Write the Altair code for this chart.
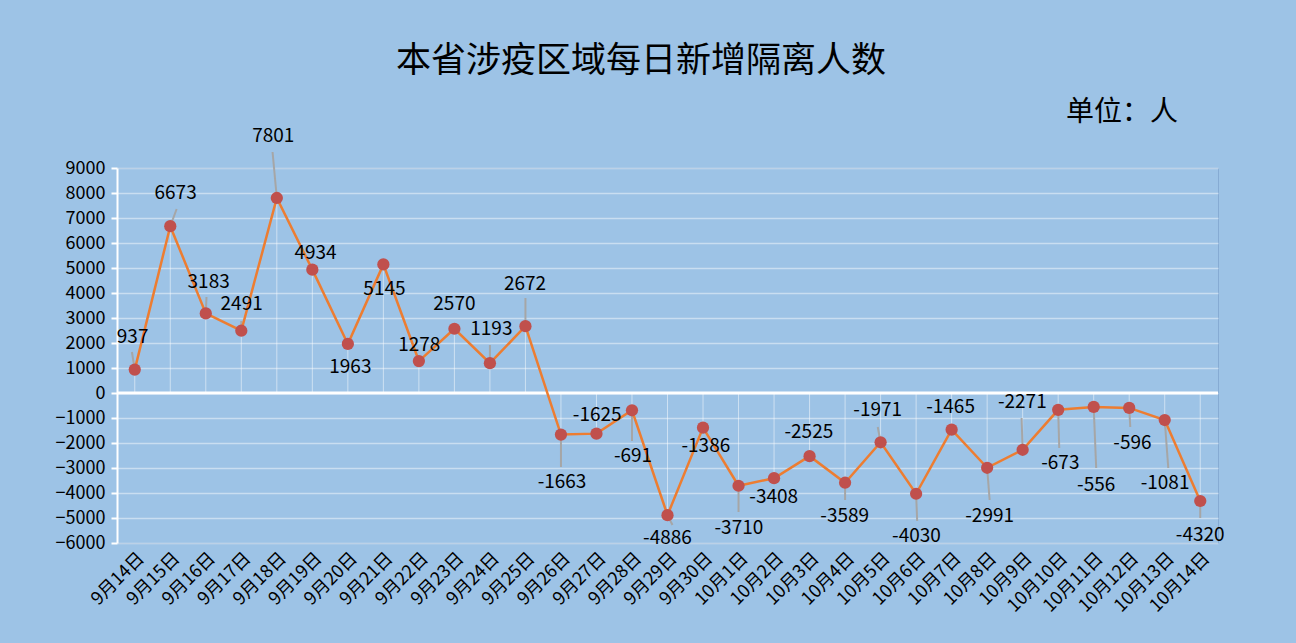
import altair as alt
import pandas as pd

dates = ["9月14日","9月15日","9月16日","9月17日","9月18日","9月19日","9月20日","9月21日",
         "9月22日","9月23日","9月24日","9月25日","9月26日","9月27日","9月28日","9月29日",
         "9月30日","10月1日","10月2日","10月3日","10月4日","10月5日","10月6日","10月7日",
         "10月8日","10月9日","10月10日","10月11日","10月12日","10月13日","10月14日"]
values = [937, 6673, 3183, 2491, 7801, 4934, 1963, 5145, 1278, 2570, 1193, 2672,
          -1663, -1625, -691, -4886, -1386, -3710, -3408, -2525, -3589, -1971, -4030,
          -1465, -2991, -2271, -673, -556, -596, -1081, -4320]
# data-label anchor positions (index units, value units)
label_x = [-0.06, 1.15, 2.08, 3.01, 3.9, 5.09, 6.07, 7.03, 8.01, 9.0, 10.04, 10.99,
           12.03, 13.02, 14.03, 15.0, 16.08, 17.01, 17.99, 18.98, 19.99, 20.92, 22.01,
           22.97, 24.07, 24.99, 26.06, 27.07, 28.09, 29.01, 30.0]
label_y = [2240, 8000, 4440, 3560, 10280, 5600, 1040, 4160, 1920, 3560, 2560, 4360,
           -3560, -880, -2520, -5800, -2120, -5400, -4160, -1560, -4920, -680, -5720,
           -560, -4920, -360, -2800, -3680, -2000, -3600, -5680]
# leader line end points (index units, value units)
lead_x = [-0.08, 1.18, 2.02, 3.0, 3.88, 5, 6, 7, 8, 9, 10, 11,
          12, 13, 14, 15.14, 16, 17, 18, 19, 20, 20.92, 22.03,
          23, 24.07, 24.97, 26.03, 27.07, 28.03, 29.1, 30]
lead_y = [1640, 7360, 3840, 2880, 9640, 4934, 1963, 5145, 1278, 2570, 1920, 3800,
          -2960, -1625, -1920, -5280, -1386, -4760, -3408, -2525, -4280, -1360, -5120,
          -1465, -4280, -1000, -2200, -3000, -1360, -3000, -5000]

df = pd.DataFrame({
    "i": list(range(len(dates))), "date": dates, "v": values,
    "lx": label_x, "ly": label_y, "ex": lead_x, "ey": lead_y,
    "zero": [0] * len(dates),
})
df["txt"] = df["v"].astype(str)

FONT = "Noto Sans CJK SC"
BG = "#9DC3E6"

label_expr = "[" + ",".join("'" + d + "'" for d in dates) + "][datum.value]"

xs = alt.Scale(domain=[-0.5, len(dates) - 0.5], nice=False, zero=False)
ys = alt.Scale(domain=[-6000, 9000], nice=False)

x_axis = alt.Axis(values=list(range(len(dates))), labelExpr=label_expr, labelAngle=-45,
                  labelFontSize=18, labelColor="black", labelFont=FONT, grid=False,
                  domain=False, ticks=False, title=None, labelPadding=6,
                  labelOverlap=False)
y_axis = alt.Axis(values=list(range(-6000, 9001, 1000)), format="d", labelFontSize=18,
                  labelColor="black", labelFont=FONT, gridColor="white", gridOpacity=0.45,
                  gridWidth=1.5, domainColor="white", domainWidth=2, tickColor="white",
                  tickSize=6, tickWidth=2, title=None, labelPadding=6,
                  labelOverlap=False)

X = alt.X("i:Q", scale=xs, axis=x_axis)
Y = alt.Y("v:Q", scale=ys, axis=y_axis)

base = alt.Chart(df)

drop = base.mark_rule(color="white", opacity=0.5, strokeWidth=1).encode(
    x=X, y=alt.Y("zero:Q", scale=ys, axis=y_axis), y2="v:Q")

zero_rule = alt.Chart(pd.DataFrame({"z": [0]})).mark_rule(color="white", strokeWidth=3).encode(
    y=alt.Y("z:Q", scale=ys, axis=y_axis))

leader = base.mark_rule(color="#A6A6A6", strokeWidth=2).encode(
    x=X, y=Y, x2="ex:Q", y2="ey:Q")

line = base.mark_line(color="#ED7D31", strokeWidth=2.5).encode(x=X, y=Y)

pts = base.mark_circle(color="#C0504D", size=150, opacity=1).encode(x=X, y=Y)

labels = base.mark_text(fontSize=19, font=FONT, color="black").encode(
    x=alt.X("lx:Q", scale=xs, axis=x_axis), y=alt.Y("ly:Q", scale=ys, axis=y_axis),
    text="txt:N")

title = alt.Chart(pd.DataFrame({"t": ["本省涉疫区域每日新增隔离人数"]})).mark_text(
    fontSize=35, font=FONT, color="black", align="center", baseline="middle"
).encode(x=alt.value(524), y=alt.value(-107), text="t:N")

unit = alt.Chart(pd.DataFrame({"t": ["单位：人"]})).mark_text(
    fontSize=28, font=FONT, color="black", align="center", baseline="middle"
).encode(x=alt.value(1005), y=alt.value(-55), text="t:N")

chart = alt.layer(drop, zero_rule, leader, line, pts, labels, title, unit).properties(
    width=1101, height=375,
    padding={"left": 117, "top": 168, "right": 78, "bottom": 100},
    autosize=alt.AutoSizeParams(type="none"),
    background=BG,
).configure_view(stroke="#86ABD3", strokeWidth=1, fill=BG)

chart.save("out.html", embed_options={"renderer": "svg", "actions": False})
